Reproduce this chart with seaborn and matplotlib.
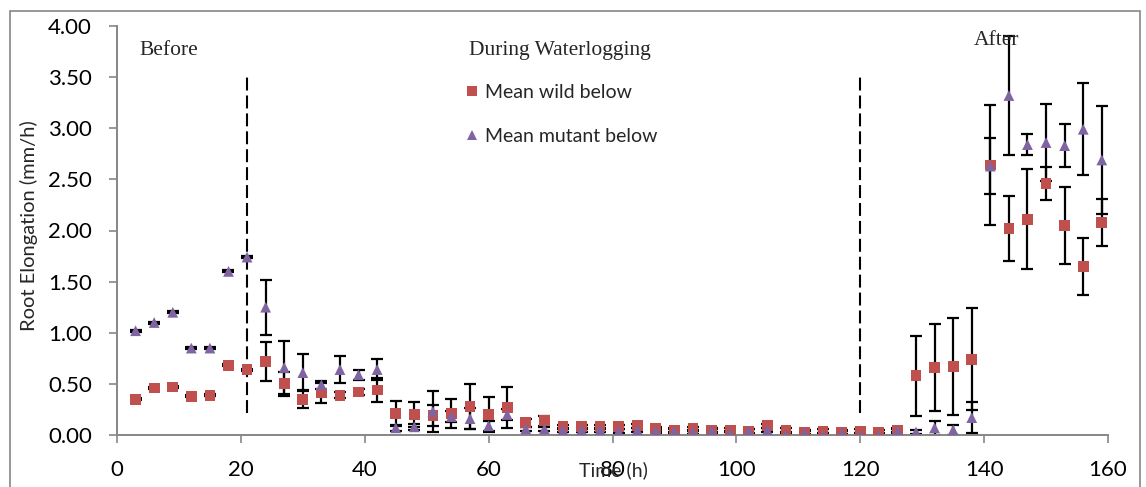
import numpy as np
import pandas as pd
import matplotlib
matplotlib.use("Agg")
import matplotlib.pyplot as plt
import seaborn as sns
from matplotlib.patches import Rectangle

# ---------------- data ----------------
times = list(range(3, 160, 3))

wild_mean = [0.35, 0.46, 0.47, 0.38, 0.39, 0.68, 0.64, 0.72, 0.50, 0.35,
             0.41, 0.39, 0.42, 0.44, 0.21, 0.20, 0.19, 0.21, 0.28, 0.20,
             0.27, 0.12, 0.14, 0.08, 0.08, 0.08, 0.08, 0.09, 0.06, 0.05,
             0.06, 0.05, 0.05, 0.04, 0.09, 0.05, 0.03, 0.04, 0.03, 0.04,
             0.03, 0.05, 0.58, 0.66, 0.67, 0.74, 2.64, 2.02, 2.11, 2.46,
             2.05, 1.65, 2.08]
wild_err = [0.01, 0.01, 0.01, 0.01, 0.01, 0.01, 0.01, 0.19, 0.12, 0.09,
            0.10, 0.03, 0.03, 0.12, 0.12, 0.12, 0.10, 0.14, 0.22, 0.17,
            0.20, 0.04, 0.05, 0.02, 0.02, 0.02, 0.02, 0.02, 0.02, 0.02,
            0.02, 0.02, 0.02, 0.02, 0.02, 0.02, 0.02, 0.02, 0.02, 0.02,
            0.02, 0.02, 0.39, 0.43, 0.47, 0.50, 0.59, 0.32, 0.49, 0.16,
            0.38, 0.28, 0.23]

mutant_mean = [1.02, 1.10, 1.20, 0.85, 0.85, 1.60, 1.74, 1.25, 0.66, 0.61,
               0.49, 0.64, 0.59, 0.64, 0.07, 0.08, 0.23, 0.18, 0.16, 0.09,
               0.20, 0.06, 0.06, 0.05, 0.05, 0.05, 0.04, 0.05, 0.04, 0.04,
               0.03, 0.04, 0.02, 0.04, 0.05, 0.00, 0.02, 0.00, 0.02, 0.00,
               0.00, 0.04, 0.03, 0.07, 0.05, 0.17, 2.63, 3.32, 2.84, 2.86,
               2.83, 2.99, 2.69]
mutant_err = [0.01, 0.01, 0.01, 0.01, 0.01, 0.01, 0.01, 0.27, 0.26, 0.18,
              0.04, 0.13, 0.05, 0.10, 0.03, 0.03, 0.20, 0.05, 0.10, 0.05,
              0.05, 0.02, 0.02, 0.02, 0.02, 0.02, 0.02, 0.02, 0.02, 0.02,
              0.02, 0.02, 0.02, 0.02, 0.02, 0.02, 0.02, 0.02, 0.02, 0.02,
              0.02, 0.02, 0.02, 0.07, 0.05, 0.15, 0.27, 0.58, 0.10, 0.38,
              0.21, 0.45, 0.53]

series_names = ["Mean wild below", "Mean mutant below"]
phase_labels = ["Before", "During Waterlogging", "After"]
phase_bounds = [21, 120]
x_ticks = [0, 20, 40, 60, 80, 100, 120, 140, 160]
y_ticks = [0.0, 0.5, 1.0, 1.5, 2.0, 2.5, 3.0, 3.5, 4.0]

# ---------------- styling ----------------
sns.set_theme(style="white")
plt.rcParams['font.family'] = ['Lato', 'DejaVu Sans']

RED = "#C0504D"
PURPLE = "#8064A2"
GREY = "#868686"

df = pd.concat([
    pd.DataFrame({"Time": times, "Value": wild_mean, "Err": wild_err, "Series": series_names[0]}),
    pd.DataFrame({"Time": times, "Value": mutant_mean, "Err": mutant_err, "Series": series_names[1]}),
])

fig = plt.figure(figsize=(11.46, 4.87), dpi=100)
ax = fig.add_axes([117 / 1146, 1 - 435 / 487, (1108 - 117) / 1146, (435 - 26) / 487])

# error bars
for name in series_names:
    sub = df[df["Series"] == name]
    ax.errorbar(sub["Time"], sub["Value"], yerr=sub["Err"], fmt="none",
                ecolor="black", elinewidth=1.6, capsize=4.5, capthick=1.6, zorder=2)

sns.scatterplot(data=df, x="Time", y="Value", hue="Series", style="Series",
                palette={series_names[0]: RED, series_names[1]: PURPLE},
                markers={series_names[0]: "s", series_names[1]: "^"},
                s=60, edgecolor="none", linewidth=0, ax=ax, zorder=3, legend=True)

# phase separators
for xb in phase_bounds:
    ax.vlines(xb, 0.22, 3.5, colors="black", linestyles=(0, (6.2, 2.4)), linewidth=1.5, zorder=1)

ax.set_xlim(0, 160)
ax.set_ylim(0, 4.0)
ax.set_xticks(x_ticks)
ax.set_yticks(y_ticks)
ax.set_yticklabels([f"{v:.2f}" for v in y_ticks])
ax.tick_params(axis="both", labelsize=16, colors="black", length=6, width=1.2,
               direction="out", color=GREY, bottom=True, left=True)
ax.tick_params(axis="x", pad=12)
ax.tick_params(axis="y", pad=12)

for side in ["top", "right"]:
    ax.spines[side].set_visible(False)
for side in ["left", "bottom"]:
    ax.spines[side].set_color(GREY)
    ax.spines[side].set_linewidth(1.4)

ax.set_xlabel("Time (h)", fontsize=14, va="center")
ax.set_ylabel("Root Elongation (mm/h)", fontsize=14.5)
ax.xaxis.set_label_coords(0.5005, -0.0856)
ax.yaxis.set_label_coords(-0.080, 0.512)

# phase annotations
serif = ["Liberation Serif", "DejaVu Serif"]
ax.text(8.4, 3.765, phase_labels[0], ha="center", va="center", fontsize=15.5, family=serif)
ax.text(71.5, 3.765, phase_labels[1], ha="center", va="center", fontsize=15.5, family=serif)
ax.text(142.0, 3.863, phase_labels[2], ha="center", va="center", fontsize=15.5, family=serif)

# legend
handles, labels = ax.get_legend_handles_labels()
ax.legend(handles, labels, loc="upper left", bbox_to_anchor=(0.348, 0.859),
          frameon=False, fontsize=14, handlelength=1.0, handletextpad=0.2,
          labelspacing=1.41, borderaxespad=0, borderpad=0, markerscale=0.9)

# figure border
fig.patches.append(Rectangle((10 / 1146, -0.02), (1140 - 10) / 1146, 1.02 - 11 / 487,
                             transform=fig.transFigure, fill=False,
                             edgecolor=GREY, linewidth=1.2))

fig.savefig("out.png", dpi=100)
